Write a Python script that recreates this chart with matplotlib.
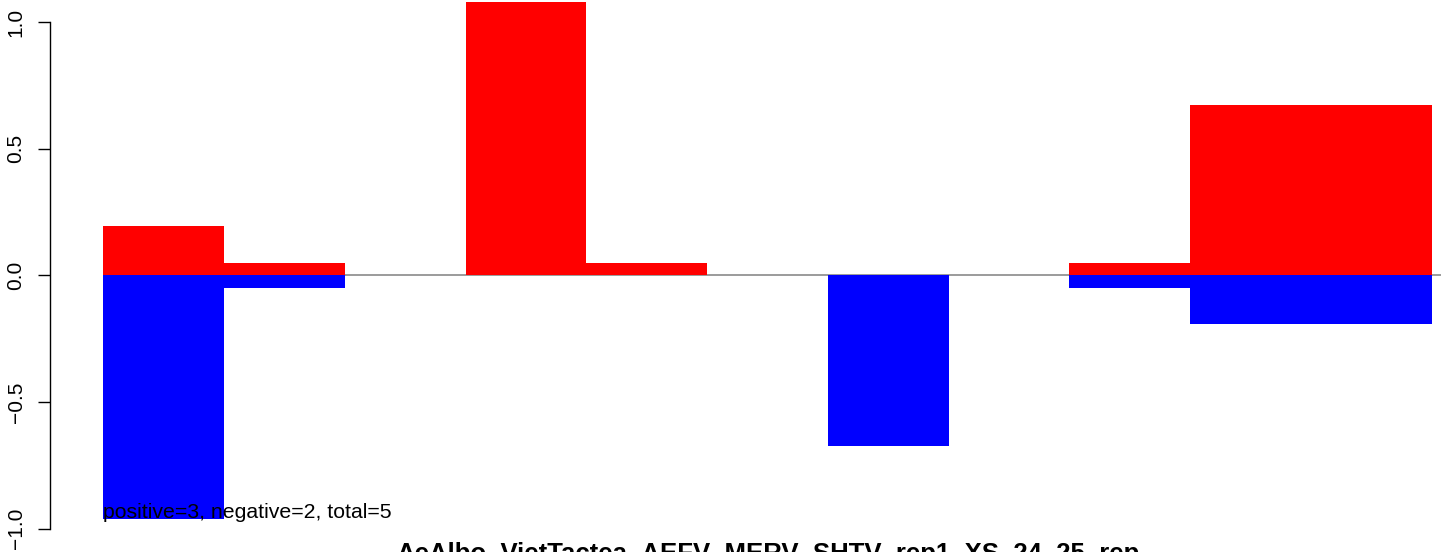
import numpy as np
import matplotlib.pyplot as plt

plt.rcParams['font.family'] = ['Liberation Sans', 'DejaVu Sans']

# bar values per slot (space=0 barplot, 11 slots)
slot = np.arange(11)
pos_vals = [0.193, 0.048, 0.0, 1.2, 0.048, 0.0, 0.0, 0.0, 0.048, 0.671, 0.671]
neg_vals = [-0.962, -0.05, 0.0, 0.0, 0.0, 0.0, -0.673, 0.0, -0.05, -0.193, -0.193]
yticks = [-1.0, -0.5, 0.0, 0.5, 1.0]
xlab = 'AeAlbo_VietTactea_AEFV_MERV_SHTV_rep1_XS_24_25_rep'
note = 'positive=3, negative=2, total=5'

W, H = 1441, 552
fig = plt.figure(figsize=(W / 100, H / 100), dpi=100)
# plot region runs past the right edge of the picture, as in the original
left, right = 50 / W, 1485 / W
bottom, top = 1 - 549 / H, 1 - 1.7 / H
ax = fig.add_axes([left, bottom, right - left, top - bottom])

ax.hlines(0, 0, 11.44, color='#808080', lw=1.1, zorder=1)
ax.bar(slot, pos_vals, width=1.0, align='edge', color='#ff0000', lw=0, zorder=2)
ax.bar(slot, neg_vals, width=1.0, align='edge', color='#0000ff', lw=0, zorder=2)

ax.text(0, -0.935, note, fontsize=15.3, ha='left', va='center', zorder=3)

ax.set_xlim(-0.44, 11.44)
ax.set_ylim(-1.08, 1.08)
for s in ['top', 'right', 'bottom']:
    ax.spines[s].set_visible(False)
ax.spines['left'].set_bounds(-1, 1)
ax.spines['left'].set_linewidth(1.0)
ax.set_xticks([])
ax.set_yticks(yticks)
ax.set_yticklabels(['\u22121.0', '\u22120.5', '0.0', '0.5', '1.0'],
                   rotation=90, va='center', fontsize=15)
ax.tick_params(axis='y', length=8.6, width=1.0, pad=9)

fig.text((50 + 1485) / 2 / W, 1 - 542 / H, xlab, fontsize=18.5,
         fontweight='bold', ha='center', va='top')

fig.savefig('out.png', dpi=100)
